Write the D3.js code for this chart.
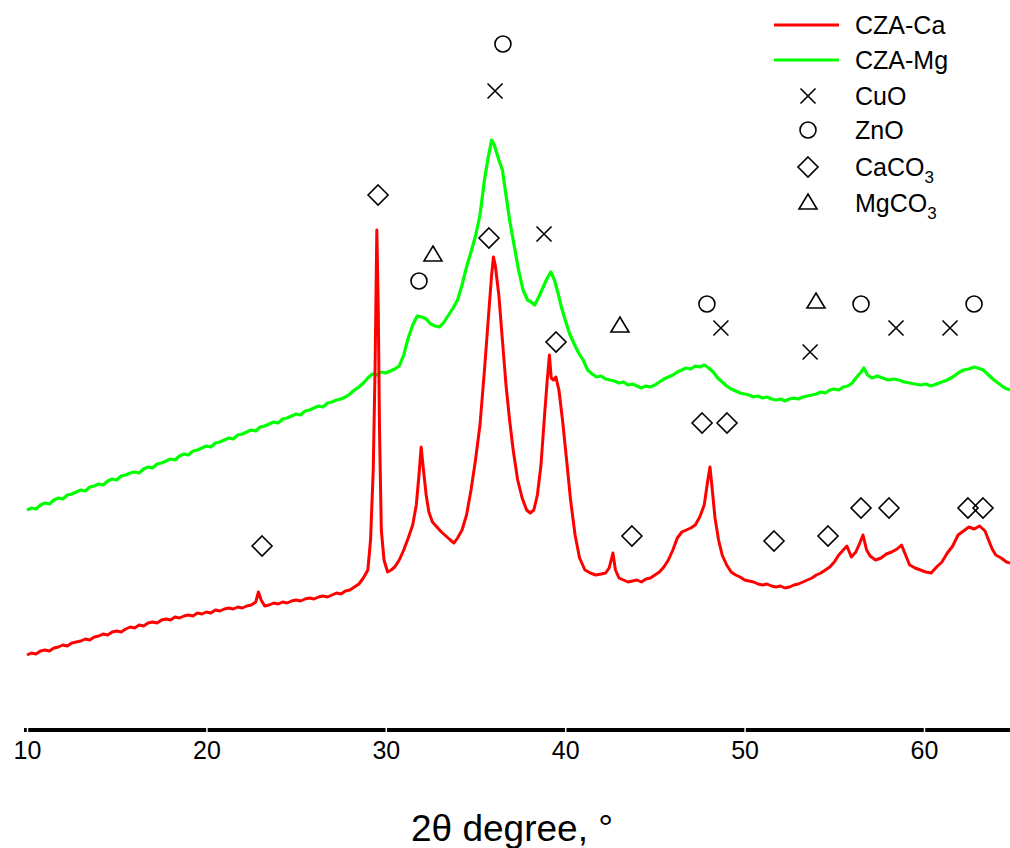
<!DOCTYPE html>
<html>
<head>
<meta charset="utf-8">
<script src="https://cdn.jsdelivr.net/npm/d3@7"></script>
<style>
  html, body { margin: 0; padding: 0; background: #fff; }
  svg { display: block; font-family: "Liberation Sans", Arial, sans-serif; }
</style>
</head>
<body>
<svg id="chart" width="1010" height="848"></svg>
<script>
// XRD patterns: [2θ (deg), intensity (a.u.)]
const czaCa = [
  [10.00,75],[10.25,77],[10.50,76],[10.75,79],[11.00,80],[11.25,79],[11.50,82],[11.75,83],
  [12.00,85],[12.25,84],[12.50,87],[12.75,88],[13.00,89],[13.25,91],[13.50,90],[13.75,93],
  [14.00,94],[14.25,96],[14.50,95],[14.75,98],[15.00,99],[15.25,98],[15.50,101],[15.75,103],
  [16.00,102],[16.25,105],[16.50,104],[16.75,107],[17.00,108],[17.25,107],[17.50,110],[17.75,111],
  [18.00,110],[18.25,113],[18.50,112],[18.75,114],[19.00,115],[19.25,114],[19.50,117],[19.75,116],
  [20.00,118],[20.25,117],[20.50,120],[20.75,119],[21.00,121],[21.25,122],[21.50,121],[21.75,123],
  [22.00,122],[22.25,124],[22.50,125],[22.75,128],[22.90,138],[23.05,130],[23.25,124],[23.50,125],
  [23.75,127],[24.00,126],[24.25,128],[24.50,127],[24.75,129],[25.00,130],[25.25,129],[25.50,131],
  [25.75,132],[26.00,131],[26.25,133],[26.50,134],[26.75,133],[27.00,135],[27.25,137],[27.50,136],
  [27.75,139],[28.00,140],[28.25,143],[28.50,146],[28.75,152],[29.00,160],[29.15,190],[29.30,260],
  [29.40,360],[29.50,500],[29.58,420],[29.65,300],[29.75,200],[29.90,170],[30.10,158],[30.30,160],
  [30.50,163],[30.75,170],[31.00,180],[31.25,192],[31.50,205],[31.70,225],[31.85,255],[31.97,283],
  [32.10,260],[32.25,235],[32.40,218],[32.60,208],[32.85,203],[33.10,198],[33.35,194],[33.60,190],
  [33.80,187],[34.00,192],[34.25,200],[34.50,215],[34.75,240],[35.00,270],[35.25,305],[35.50,360],
  [35.75,420],[35.90,455],[36.00,473],[36.10,465],[36.30,435],[36.50,390],[36.70,345],[36.90,310],
  [37.10,280],[37.35,250],[37.60,232],[37.85,220],[38.05,217],[38.25,220],[38.45,235],[38.65,265],
  [38.85,315],[39.00,350],[39.12,375],[39.22,352],[39.35,350],[39.48,353],[39.65,340],[39.85,310],
  [40.05,275],[40.30,230],[40.55,195],[40.80,172],[41.10,160],[41.40,157],[41.70,155],[42.00,156],
  [42.25,157],[42.45,162],[42.66,177],[42.80,160],[43.00,152],[43.25,150],[43.50,148],[43.75,149],
  [44.00,150],[44.25,148],[44.50,151],[44.75,152],[45.00,155],[45.25,158],[45.50,163],[45.75,170],
  [46.00,180],[46.25,192],[46.50,198],[46.75,200],[47.00,202],[47.25,205],[47.50,213],[47.75,225],
  [47.95,250],[48.07,263],[48.20,240],[48.35,212],[48.55,190],[48.75,175],[49.00,165],[49.25,158],
  [49.50,155],[49.75,153],[50.00,150],[50.25,149],[50.50,148],[50.75,146],[51.00,145],[51.25,146],
  [51.50,144],[51.75,143],[52.00,144],[52.25,142],[52.50,143],[52.75,145],[53.00,146],[53.25,148],
  [53.50,150],[53.75,152],[54.00,155],[54.25,157],[54.50,160],[54.75,163],[55.00,168],[55.25,175],
  [55.50,180],[55.70,184],[55.95,173],[56.20,178],[56.40,186],[56.60,195],[56.80,180],[57.00,174],
  [57.30,170],[57.60,172],[57.90,176],[58.20,178],[58.50,181],[58.75,185],[58.95,176],[59.20,165],
  [59.50,162],[59.80,160],[60.10,158],[60.40,157],[60.70,163],[61.00,168],[61.30,177],[61.60,184],
  [61.90,195],[62.20,199],[62.50,203],[62.80,201],[63.10,204],[63.40,199],[63.60,190],[63.80,181],
  [64.00,175],[64.30,172],[64.60,168],[64.80,167]
];

const czaMg = [
  [10.00,220],[10.25,222],[10.50,221],[10.75,225],[11.00,227],[11.25,226],[11.50,230],[11.75,232],
  [12.00,231],[12.25,235],[12.50,236],[12.75,238],[13.00,240],[13.25,239],[13.50,243],[13.75,244],
  [14.00,246],[14.25,245],[14.50,249],[14.75,251],[15.00,250],[15.25,254],[15.50,255],[15.75,257],
  [16.00,258],[16.25,257],[16.50,261],[16.75,263],[17.00,262],[17.25,266],[17.50,267],[17.75,269],
  [18.00,271],[18.25,270],[18.50,274],[18.75,276],[19.00,275],[19.25,279],[19.50,280],[19.75,282],
  [20.00,284],[20.25,283],[20.50,287],[20.75,288],[21.00,290],[21.25,292],[21.50,291],[21.75,295],
  [22.00,296],[22.25,298],[22.50,300],[22.75,299],[23.00,303],[23.25,304],[23.50,306],[23.75,308],
  [24.00,307],[24.25,311],[24.50,312],[24.75,314],[25.00,316],[25.25,315],[25.50,319],[25.75,320],
  [26.00,322],[26.25,324],[26.50,323],[26.75,327],[27.00,328],[27.25,330],[27.50,331],[27.75,333],
  [28.00,336],[28.25,340],[28.50,343],[28.75,347],[29.00,352],[29.25,356],[29.50,355],[29.75,358],
  [30.00,357],[30.25,359],[30.50,361],[30.75,364],[31.00,375],[31.25,392],[31.50,405],[31.75,414],
  [32.00,413],[32.25,411],[32.50,406],[32.75,404],[33.00,403],[33.25,408],[33.50,415],[33.75,422],
  [34.00,430],[34.25,445],[34.50,463],[34.75,478],[35.00,494],[35.25,515],[35.50,550],[35.70,572],
  [35.90,590],[36.05,585],[36.30,570],[36.50,560],[36.70,535],[36.90,510],[37.15,485],[37.40,460],
  [37.65,440],[37.90,430],[38.10,428],[38.30,425],[38.50,432],[38.75,442],[39.00,452],[39.20,458],
  [39.40,450],[39.60,437],[39.80,422],[40.00,410],[40.25,396],[40.50,386],[40.75,377],[41.00,370],
  [41.25,360],[41.50,356],[41.75,353],[42.00,354],[42.25,351],[42.50,350],[42.75,349],[43.00,347],
  [43.25,348],[43.50,345],[43.75,346],[44.00,344],[44.25,342],[44.50,344],[44.75,343],[45.00,345],
  [45.25,348],[45.50,351],[45.75,353],[46.00,355],[46.25,358],[46.50,360],[46.75,362],[47.00,361],
  [47.25,364],[47.50,363],[47.75,365],[48.00,362],[48.25,358],[48.50,352],[48.75,348],[49.00,344],
  [49.25,341],[49.50,339],[49.75,337],[50.00,336],[50.25,335],[50.50,333],[50.75,334],[51.00,332],
  [51.25,333],[51.50,331],[51.75,330],[52.00,331],[52.25,329],[52.50,331],[52.75,332],[53.00,331],
  [53.25,333],[53.50,334],[53.75,335],[54.00,336],[54.25,338],[54.50,337],[54.75,340],[55.00,341],
  [55.25,340],[55.50,343],[55.75,344],[56.00,347],[56.25,353],[56.50,358],[56.65,362],[56.85,355],
  [57.10,352],[57.40,354],[57.70,352],[58.00,350],[58.30,351],[58.60,350],[58.90,348],[59.20,347],
  [59.50,346],[59.80,345],[60.10,346],[60.40,344],[60.70,346],[61.00,348],[61.30,350],[61.60,353],
  [61.90,357],[62.20,360],[62.50,361],[62.80,363],[63.00,362],[63.30,360],[63.60,355],[63.90,350],
  [64.20,346],[64.50,342],[64.80,340]
];

// Phase reflections: [2θ (deg), marker level (a.u.)]
const cuoPeaks   = [[36.09,639],[38.82,496],[48.68,402],[53.65,378],[58.44,402],[61.45,402]];
const znoPeaks   = [[36.53,686],[31.85,449],[47.90,426],[56.49,426],[62.79,426]];
const caco3Peaks = [[29.57,535],[35.75,492],[39.49,388],[23.10,184],[43.72,194],[47.63,307],
                    [49.02,307],[51.64,189],[54.65,194],[56.49,222],[58.05,222],[62.45,222],[63.29,222]];
const mgco3Peaks = [[32.63,475],[43.05,404],[53.98,428]];

const xTicks = [10, 20, 30, 40, 50, 60];
const axisTitle = "2θ degree, °";

const svg = d3.select("#chart");

const x = d3.scaleLinear().domain([10, 65]).range([27, 1013.7]);
const y = d3.scaleLinear().domain([0, 730]).range([730, 0]);

// Marker shapes (paths centred on 0,0)
const shapes = {
  cross:    "M-7.5,-7.5L7.5,7.5M7.5,-7.5L-7.5,7.5",
  circle:   "M8,0A8,8 0 1,1 -8,0A8,8 0 1,1 8,0Z",
  diamond:  "M0,-10L10,0L0,10L-10,0Z",
  triangle: "M0,-9L9,6L-9,6Z"
};

// Patterns
const line = d3.line().x(d => x(d[0])).y(d => y(d[1]));
svg.append("path").datum(czaMg)
  .attr("fill", "none").attr("stroke", "#00ff00").attr("stroke-width", 3.2)
  .attr("stroke-linejoin", "round").attr("d", line);
svg.append("path").datum(czaCa)
  .attr("fill", "none").attr("stroke", "#ff0000").attr("stroke-width", 3)
  .attr("stroke-linejoin", "round").attr("d", line);

// Reflection markers
const markerSets = [
  [cuoPeaks, "cross"], [znoPeaks, "circle"], [caco3Peaks, "diamond"], [mgco3Peaks, "triangle"]
];
markerSets.forEach(([peaks, shape]) => {
  svg.append("g").selectAll("path").data(peaks).join("path")
    .attr("transform", d => `translate(${x(d[0])},${y(d[1])})`)
    .attr("d", shapes[shape])
    .attr("fill", "none").attr("stroke", "#000").attr("stroke-width", 1.6);
});

// X axis
const axisG = svg.append("g").attr("transform", `translate(0,${y(0)})`)
  .call(d3.axisBottom(x).tickValues(xTicks).tickSize(0).tickPadding(11).tickSizeOuter(0));
axisG.select(".domain").attr("stroke", "#000").attr("stroke-width", 4)
  .attr("d", `M${x(10) - 3},0H1010`);
axisG.selectAll(".tick line").attr("y1", -3).attr("y2", 3)
  .attr("stroke", "#fff").attr("stroke-width", 1.5);
axisG.selectAll(".tick text").attr("fill", "#000")
  .style("font-size", "25px").style("font-family", "'Liberation Sans', Arial, sans-serif");

svg.append("text").attr("x", 512).attr("y", 841).attr("text-anchor", "middle")
  .style("font-size", "37px").text(axisTitle);

// Legend
const legend = svg.append("g");
const legendRows = [
  {kind: "line", color: "#ff0000", label: "CZA-Ca", cy: 25},
  {kind: "line", color: "#00ff00", label: "CZA-Mg", cy: 60},
  {kind: "cross", label: "CuO", cy: 96},
  {kind: "circle", label: "ZnO", cy: 130},
  {kind: "diamond", label: "CaCO", sub: "3", cy: 167},
  {kind: "triangle", label: "MgCO", sub: "3", cy: 203}
];
legendRows.forEach(r => {
  if (r.kind === "line") {
    legend.append("line").attr("x1", 774).attr("x2", 839).attr("y1", r.cy).attr("y2", r.cy)
      .attr("stroke", r.color).attr("stroke-width", 3);
  } else {
    legend.append("path").attr("transform", `translate(808,${r.cy})`)
      .attr("d", shapes[r.kind]).attr("fill", "none").attr("stroke", "#000").attr("stroke-width", 1.6);
  }
  const t = legend.append("text").attr("x", 855).attr("y", r.cy + 9).style("font-size", "25px").text(r.label);
  if (r.sub) t.append("tspan").attr("dy", 7).style("font-size", "17px").text(r.sub);
});
</script>
</body>
</html>
